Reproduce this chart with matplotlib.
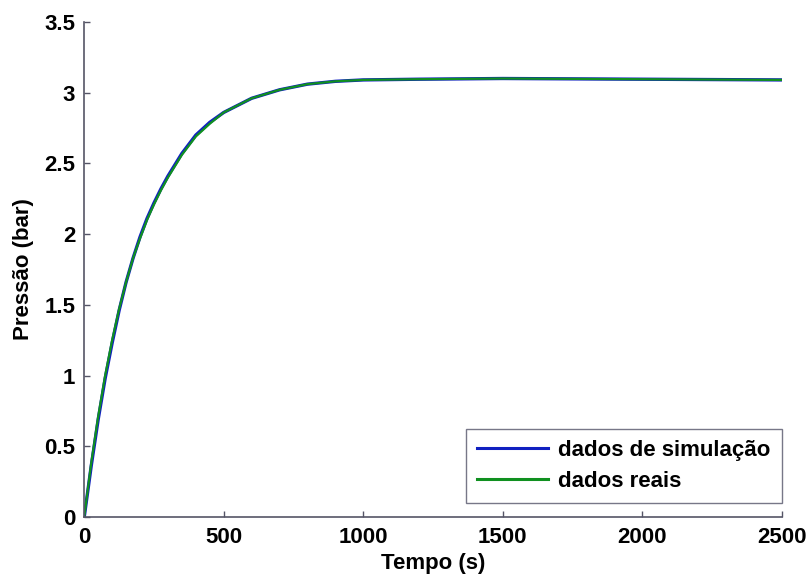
import numpy as np
import matplotlib.pyplot as plt

# ─── Data ────────────────────────────────────────────────────────
tempo = [0, 25, 50, 75, 100, 125, 150, 175, 200, 225, 250, 275, 300, 350,
         400, 450, 500, 550, 600, 650, 700, 750, 800, 900, 1000, 1200,
         1500, 2000, 2500]
pressao_sim = [0.0, 0.36, 0.69, 0.98, 1.23, 1.46, 1.66, 1.83, 1.98, 2.11,
               2.22, 2.32, 2.41, 2.57, 2.70, 2.79, 2.86, 2.91, 2.96, 2.99,
               3.02, 3.04, 3.06, 3.08, 3.09, 3.095, 3.10, 3.095, 3.09]
pressao_real = [0.0, 0.38, 0.71, 1.00, 1.25, 1.47, 1.66, 1.83, 1.97, 2.10,
                2.21, 2.31, 2.40, 2.56, 2.69, 2.78, 2.86, 2.91, 2.96, 2.99,
                3.02, 3.04, 3.06, 3.08, 3.09, 3.095, 3.10, 3.095, 3.09]
xticks = [0, 500, 1000, 1500, 2000, 2500]
yticks = [0, 0.5, 1, 1.5, 2, 2.5, 3, 3.5]
ytick_labels = ["0", "0.5", "1", "1.5", "2", "2.5", "3", "3.5"]

plt.rcParams["font.family"] = ["Liberation Sans", "DejaVu Sans"]
plt.rcParams["font.weight"] = "bold"

fig = plt.figure(figsize=(8.1, 5.77), dpi=100)
ax = fig.add_axes([0.104, 0.104, 0.861, 0.858])

ax.plot(tempo, pressao_sim, color="#1020c0", lw=2.4, label="dados de simulação")
ax.plot(tempo, pressao_real, color="#109020", lw=1.6, label="dados reais")

ax.set_xlim(0, 2500)
ax.set_ylim(0, 3.5)
ax.set_xticks(xticks)
ax.set_yticks(yticks)
ax.set_yticklabels(ytick_labels)
ax.tick_params(direction="in", length=4, width=1, labelsize=16,
               colors="#555566", labelcolor="black")
ax.tick_params(axis="x", pad=7.5)
ax.tick_params(axis="y", pad=6.5)

for side in ("top", "right"):
    ax.spines[side].set_visible(False)
for side in ("left", "bottom"):
    ax.spines[side].set_color("#555566")
    ax.spines[side].set_linewidth(1.2)

ax.set_xlabel("Tempo (s)", fontsize=16, fontweight="bold", labelpad=3)
ax.set_ylabel("Pressão (bar)", fontsize=16, fontweight="bold", labelpad=7)

leg = ax.legend(loc="lower right", bbox_to_anchor=(1.0, 0.028),
                fontsize=16, fancybox=False, framealpha=1,
                edgecolor="#777788", handlelength=3.2, handletextpad=0.45,
                borderaxespad=0, borderpad=0.5, labelspacing=0.45)
leg.get_frame().set_linewidth(1.0)
for line in leg.get_lines():
    line.set_linewidth(2.2)

fig.savefig("out.png", dpi=100)
